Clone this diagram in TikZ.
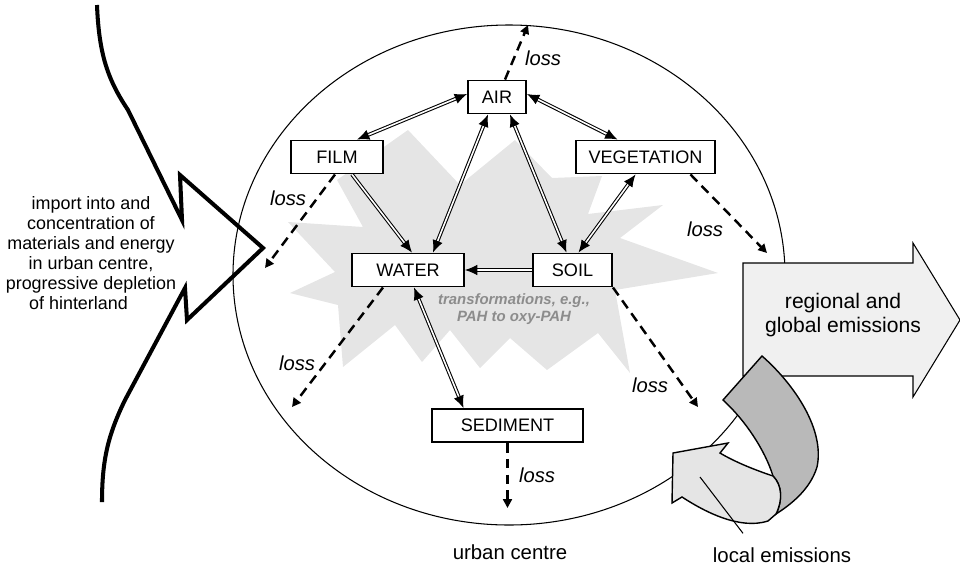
\documentclass[tikz,border=0pt]{standalone}
\usepackage{fontspec}
\setmainfont{Liberation Sans}
\usetikzlibrary{arrows.meta,calc}
\begin{document}
\begin{tikzpicture}[x=0.02cm,y=-0.02cm,
    box/.style={draw,line width=1.1pt,fill=white,minimum height=0.66cm,inner sep=0pt,font=\fontsize{10.3}{12}\selectfont},
    flow/.style={double,double distance=0.9pt,line width=0.6pt,-{Latex[length=7pt,width=6pt]}},
    both/.style={flow,{Latex[length=7pt,width=6pt]}-{Latex[length=7pt,width=6pt]}},
    lossline/.style={line width=1.4pt,dash pattern=on 5.5pt off 3.5pt,-{Triangle[length=5pt,width=5pt]}},
    losstxt/.style={font=\fontsize{11.5}{13}\itshape\selectfont}]
    \useasboundingbox (0,0) rectangle (960,569);
    % transformation burst
    \fill[gray!20] (408,130) -- (460,185) -- (515,140) -- (552,178) -- (602,176) -- (588,214)
        -- (663,205) -- (620,238) -- (718,273) -- (615,290) -- (630,373) -- (598,333)
        -- (547,370) -- (510,338) -- (480,368) -- (450,330) -- (422,362) -- (395,325)
        -- (343,367) -- (338,305) -- (290,293) -- (335,272) -- (288,222) -- (363,227)
        -- (337,180) -- cycle;
    \node[font=\fontsize{8.5}{9.6}\bfseries\itshape\selectfont,text=gray!90,align=center] (trans) at (514,309)
        {transformations, e.g.,\\PAH to oxy-PAH};
    % urban centre
    \draw[line width=0.6pt] (509,275) ellipse [x radius=276, y radius=250];
    \node[font=\fontsize{11.6}{13}\selectfont] (urban) at (510,552) {urban centre};
    % compartments
    \node[box,minimum width=1.16cm] (air) at (497,97) {AIR};
    \node[box,minimum width=1.84cm] (film) at (337,157) {FILM};
    \node[box,minimum width=2.78cm] (veg) at (645.5,157) {VEGETATION};
    \node[box,minimum width=2.24cm] (water) at (408,270) {WATER};
    \node[box,minimum width=1.58cm] (soil) at (572.5,270) {SOIL};
    \node[box,minimum width=3.02cm] (sed) at (507.5,425.5) {SEDIMENT};
    % exchanges
    \draw[both] ($(film.north)+(20,0)$) -- ($(air.west)+(0,-3)$);
    \draw[both] ($(air.east)+(0,-3)$) -- ($(veg.north)+(-28,0)$);
    \draw[flow] ($(film.south)+(15,0)$) -- ($(water.north)+(4,0)$);
    \draw[both] ($(air.south)+(-9,0)$) -- ($(water.north)+(25,0)$);
    \draw[both] ($(air.south)+(13,0)$) -- ($(soil.north)+(-6,0)$);
    \draw[both] ($(veg.south)+(-10,0)$) -- ($(soil.north)+(6,0)$);
    \draw[flow] (soil.west) -- (water.east);
    \draw[both] ($(water.south)+(6,0)$) -- ($(sed.north)+(-44,0)$);
    % losses
    \coordinate (airout) at (528,25);
    \coordinate (filmout) at (265,268);
    \coordinate (vegout) at (767,253);
    \coordinate (waterout) at (292,407);
    \coordinate (soilout) at (698,407);
    \coordinate (sedout) at (507.5,508);
    \draw[lossline] ($(air.north)+(8,0)$) -- (airout);
    \draw[lossline] ($(film.south)+(-2,0)$) -- (filmout);
    \draw[lossline] ($(veg.south)+(45,0)$) -- (vegout);
    \draw[lossline] ($(water.south)+(-25,0)$) -- (waterout);
    \draw[lossline] (soil.south east) -- (soilout);
    \draw[lossline] (sed.south) -- (sedout);
    \node[losstxt] (airloss) at (543,58) {loss};
    \node[losstxt] (filmloss) at (288,198) {loss};
    \node[losstxt] (vegloss) at (705,229) {loss};
    \node[losstxt] (waterloss) at (297,363) {loss};
    \node[losstxt] (soilloss) at (650,385) {loss};
    \node[losstxt] (sedloss) at (537,475) {loss};
    % hinterland
    \node[font=\fontsize{10.2}{11.4}\selectfont,align=center] (import) at (91,253)
        {import into and\\concentration of\\materials and energy\\in urban centre,\\progressive depletion\\of hinterland\hspace*{0.5cm}};
    \draw[line width=2.3pt,miter limit=20] (97,5) .. controls (99,55) and (108,80) .. (128,110)
        -- (182,220) -- (180,175) -- (263,248) -- (187,320) -- (185,288)
        -- (125,400) .. controls (108,435) and (102,460) .. (102,502);
    % regional and global emissions
    \draw[line width=0.6pt,fill=gray!12] (743,263) -- (913,263) -- (913,243) -- (960,320)
        -- (913,397) -- (913,376) -- (743,376) -- cycle;
    \node[font=\fontsize{12}{14}\selectfont,align=center] (regional) at (843,315)
        {regional and\\global emissions};
    % local emissions
    \draw[line width=0.8pt,fill=gray!55] (723,400) -- (762,356)
        .. controls (795,385) and (825,430) .. (817,467)
        .. controls (810,490) and (790,505) .. (776,514)
        .. controls (783,500) and (782,485) .. (773,476)
        .. controls (765,450) and (745,420) .. (723,400) -- cycle;
    \draw[line width=0.8pt,fill=gray!20] (773,476) .. controls (755,470) and (735,462) .. (720,453)
        -- (728,443) -- (673,453) -- (672,503) -- (682,497)
        .. controls (705,512) and (740,530) .. (768,521)
        -- (776,514) .. controls (783,500) and (782,485) .. (773,476) -- cycle;
    \node[font=\fontsize{11.6}{13}\selectfont] (local) at (782,555) {local emissions};
    \coordinate (localtip) at (700,477);
    \draw[line width=0.6pt] ($(local.north)+(-39,-8)$) -- (localtip);
\end{tikzpicture}
\end{document}
